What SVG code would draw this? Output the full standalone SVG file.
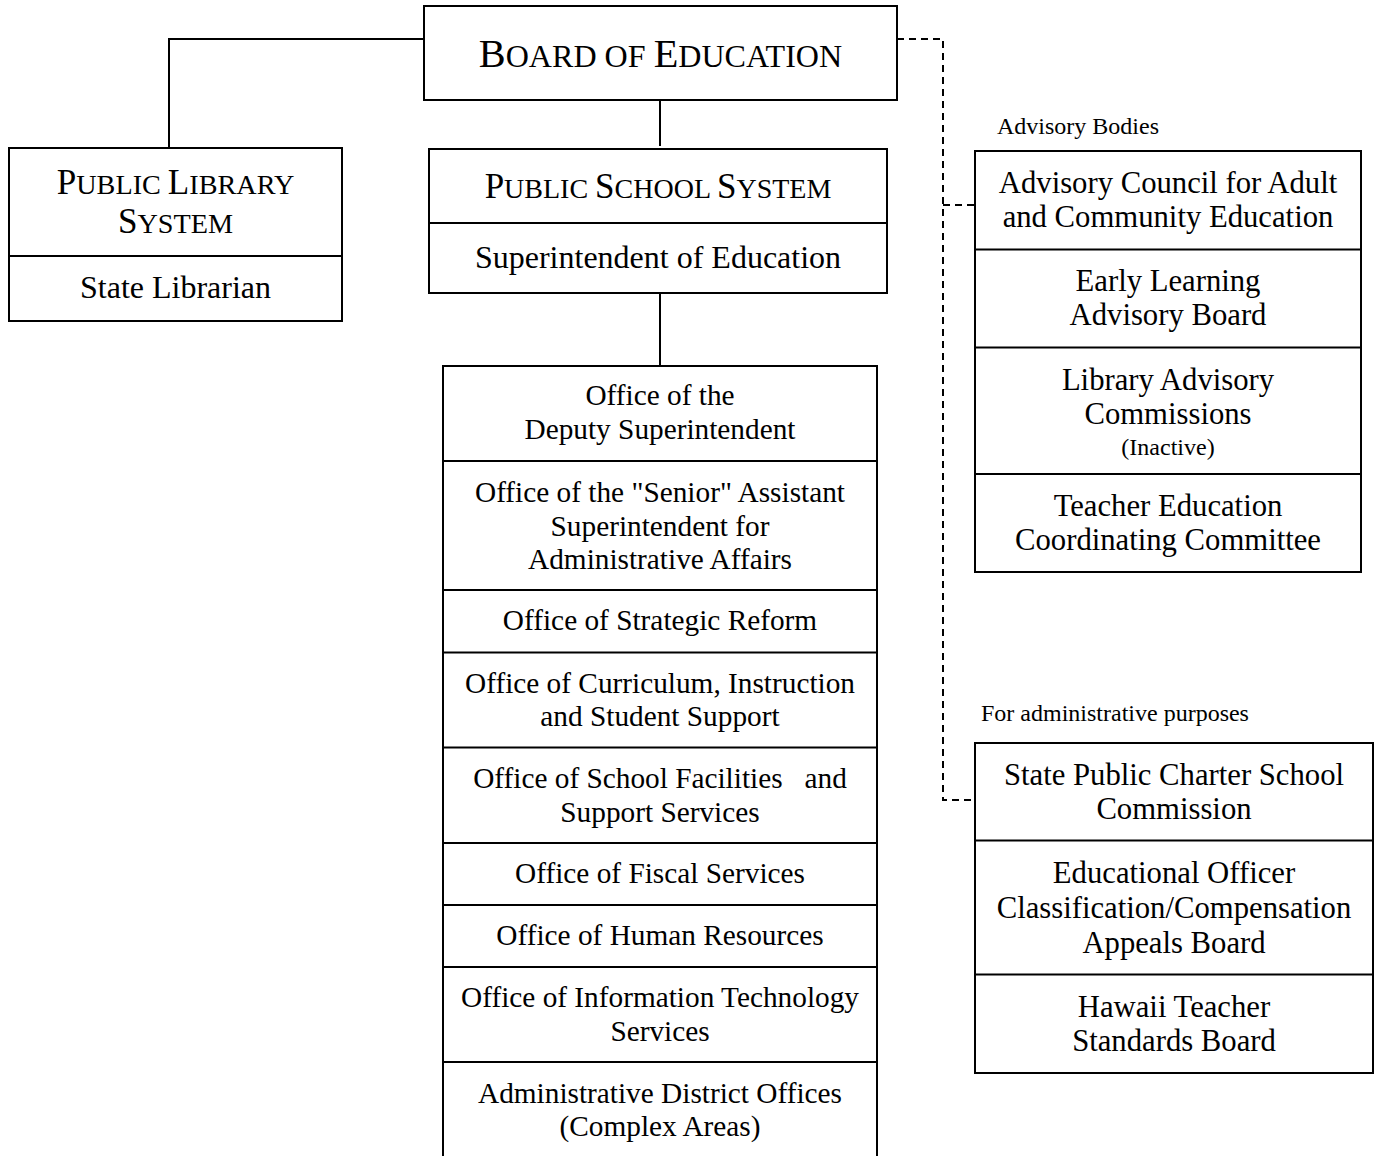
<svg xmlns="http://www.w3.org/2000/svg" width="1379" height="1156" viewBox="0 0 1379 1156">
<style>
.box{fill:#fff;stroke:#000;stroke-width:2}
.div{stroke:#000;stroke-width:2;fill:none}
.con{stroke:#000;stroke-width:2;fill:none}
.dash{stroke:#000;stroke-width:2;fill:none;stroke-dasharray:7,5}
text{font-family:"Liberation Serif","Times New Roman",serif;fill:#000}
.t{font-size:29.3px;text-anchor:middle}
.m{font-size:32px;text-anchor:middle}
.r{font-size:30.7px;text-anchor:middle}
.s{font-size:24px}
.sc{text-anchor:middle}
</style>
<rect width="1379" height="1156" fill="#fff"/>
<g id="connectors">
<path class="con" d="M424,39 H169 V148"/>
<path class="con" d="M660,100 V146"/>
<path class="con" d="M660,293 V366"/>
<path class="dash" d="M897,39 H943 V800 H975"/>
<path class="dash" d="M943,205 H975"/>
</g>
<g id="board">
<rect class="box" x="424" y="6" width="473" height="94"/>
<text class="sc" x="660.5" y="67"><tspan font-size="40.3">B</tspan><tspan font-size="32.1">OARD OF </tspan><tspan font-size="40.3">E</tspan><tspan font-size="32.1">DUCATION</tspan></text>
</g>
<g id="library">
<rect class="box" x="9" y="148" width="333" height="173"/>
<line class="div" x1="9" y1="256" x2="342" y2="256"/>
<text class="sc" x="175.5" y="194"><tspan font-size="35.1">P</tspan><tspan font-size="28.2">UBLIC </tspan><tspan font-size="35.1">L</tspan><tspan font-size="28.2">IBRARY</tspan></text>
<text class="sc" x="175.5" y="233"><tspan font-size="35.1">S</tspan><tspan font-size="28.2">YSTEM</tspan></text>
<text class="m" x="175.5" y="298">State Librarian</text>
</g>
<g id="school">
<rect class="box" x="429" y="149" width="458" height="144"/>
<line class="div" x1="429" y1="223" x2="887" y2="223"/>
<text class="sc" x="658" y="198"><tspan font-size="35">P</tspan><tspan font-size="28">UBLIC </tspan><tspan font-size="35">S</tspan><tspan font-size="28">CHOOL </tspan><tspan font-size="35">S</tspan><tspan font-size="28">YSTEM</tspan></text>
<text class="m" x="658" y="268">Superintendent of Education</text>
</g>
<g id="offices">
<rect class="box" x="443" y="366" width="434" height="792"/>
<line class="div" x1="443" y1="461" x2="877" y2="461"/>
<line class="div" x1="443" y1="590" x2="877" y2="590"/>
<line class="div" x1="443" y1="652.5" x2="877" y2="652.5"/>
<line class="div" x1="443" y1="747.5" x2="877" y2="747.5"/>
<line class="div" x1="443" y1="843" x2="877" y2="843"/>
<line class="div" x1="443" y1="905" x2="877" y2="905"/>
<line class="div" x1="443" y1="967" x2="877" y2="967"/>
<line class="div" x1="443" y1="1062" x2="877" y2="1062"/>
<text class="t" x="660" y="405">Office of the</text>
<text class="t" x="660" y="439">Deputy Superintendent</text>
<text class="t" x="660" y="502">Office of the "Senior" Assistant</text>
<text class="t" x="660" y="535.5">Superintendent for</text>
<text class="t" x="660" y="568.5">Administrative Affairs</text>
<text class="t" x="660" y="630">Office of Strategic Reform</text>
<text class="t" x="660" y="692.5">Office of Curriculum, Instruction</text>
<text class="t" x="660" y="726">and Student Support</text>
<text class="t" x="660" y="788" xml:space="preserve" style="white-space:pre">Office of School Facilities   and</text>
<text class="t" x="660" y="821.5">Support Services</text>
<text class="t" x="660" y="883">Office of Fiscal Services</text>
<text class="t" x="660" y="945">Office of Human Resources</text>
<text class="t" x="660" y="1007">Office of Information Technology</text>
<text class="t" x="660" y="1040.5">Services</text>
<text class="t" x="660" y="1102.5">Administrative District Offices</text>
<text class="t" x="660" y="1136">(Complex Areas)</text>
</g>
<g id="advisory">
<text class="s" x="997" y="133.5">Advisory Bodies</text>
<rect class="box" x="975" y="151" width="386" height="421"/>
<line class="div" x1="975" y1="249.5" x2="1361" y2="249.5"/>
<line class="div" x1="975" y1="347.5" x2="1361" y2="347.5"/>
<line class="div" x1="975" y1="474" x2="1361" y2="474"/>
<text class="r" x="1168" y="193">Advisory Council for Adult</text>
<text class="r" x="1168" y="227">and Community Education</text>
<text class="r" x="1168" y="291">Early Learning</text>
<text class="r" x="1168" y="325">Advisory Board</text>
<text class="r" x="1168" y="389.5">Library Advisory</text>
<text class="r" x="1168" y="423.5">Commissions</text>
<text class="r" x="1168" y="455" style="font-size:24px">(Inactive)</text>
<text class="r" x="1168" y="516">Teacher Education</text>
<text class="r" x="1168" y="550">Coordinating Committee</text>
</g>
<g id="admin">
<text class="s" x="981" y="721">For administrative purposes</text>
<rect class="box" x="975" y="743" width="398" height="330"/>
<line class="div" x1="975" y1="840.5" x2="1373" y2="840.5"/>
<line class="div" x1="975" y1="974.5" x2="1373" y2="974.5"/>
<text class="r" x="1174" y="785">State Public Charter School</text>
<text class="r" x="1174" y="819">Commission</text>
<text class="r" x="1174" y="883">Educational Officer</text>
<text class="r" x="1174" y="918">Classification/Compensation</text>
<text class="r" x="1174" y="953">Appeals Board</text>
<text class="r" x="1174" y="1017">Hawaii Teacher</text>
<text class="r" x="1174" y="1050.5">Standards Board</text>
</g>
</svg>
